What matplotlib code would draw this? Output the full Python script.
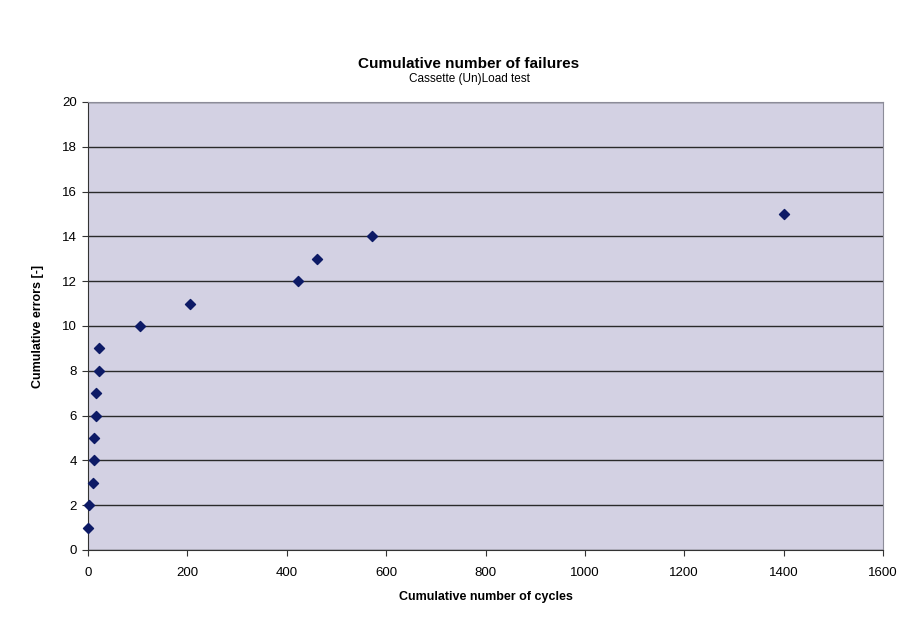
import matplotlib
matplotlib.use("Agg")
import matplotlib.pyplot as plt

# cumulative cycles at which each failure occurred
cycles = [0, 2, 11, 12, 13, 16, 17, 22, 23, 105, 205, 422, 460, 571, 1400]
errors = [1, 2, 3, 4, 5, 6, 7, 8, 9, 10, 11, 12, 13, 14, 15]

title = "Cumulative number of failures"
subtitle = "Cassette (Un)Load test"
xlabel = "Cumulative number of cycles"
ylabel = "Cumulative errors [-]"

plt.rcParams['font.family'] = ['Liberation Sans', 'DejaVu Sans']

fig = plt.figure(figsize=(9.17, 6.17), dpi=100)
ax = fig.add_axes([88 / 917, 1 - 550 / 617, (883 - 88) / 917, (550 - 102) / 617])
ax.set_facecolor('#d3d1e3')

ax.scatter(cycles, errors, marker='D', s=26, color='#0d1a66', zorder=3, clip_on=False)

ax.set_xlim(0, 1600)
ax.set_ylim(0, 20)
ax.set_xticks(range(0, 1601, 200))
ax.set_yticks(range(0, 21, 2))
ax.yaxis.grid(True, color='#2a2a2a', linewidth=1.0)
ax.set_axisbelow(True)

for side in ['left', 'bottom']:
    ax.spines[side].set_color('#333333')
for side in ['top', 'right']:
    ax.spines[side].set_color('#8c8c99')
ax.tick_params(direction='out', length=4, color='#333333', labelsize=9.5, pad=4)
ax.tick_params(axis='x', pad=8)

ax.set_xlabel(xlabel, fontsize=9, fontweight='bold', labelpad=9)
ax.set_ylabel(ylabel, fontsize=9, fontweight='bold', labelpad=13)

fig.text(469 / 917, 1 - 64 / 617, title, ha='center', va='center',
         fontsize=11, fontweight='bold')
fig.text(469 / 917, 1 - 79 / 617, subtitle, ha='center', va='center',
         fontsize=8.5)

fig.savefig('out.png', dpi=100)
